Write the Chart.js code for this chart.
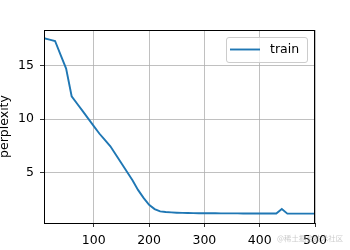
<!DOCTYPE html>
<html>
<head>
<title>Perplexity</title>
<script src="https://cdn.jsdelivr.net/npm/chart.js"></script>
<style>
  body { margin: 0; background: #fff; }
  canvas { display: block; }
</style>
</head>
<body>
<canvas id="chart" width="350" height="250"></canvas>

<script>
// epochs and training perplexity
const epochs = [10, 20, 30, 40, 50, 60, 70, 80, 90, 100,
  110, 120, 130, 140, 150, 160, 170, 180, 190, 200,
  210, 220, 230, 240, 250, 260, 270, 280, 290, 300,
  310, 320, 330, 340, 350, 360, 370, 380, 390, 400,
  410, 420, 430, 440, 450, 460, 470, 480, 490, 500];
const trainPerplexity = [17.6, 17.48, 17.35, 16.05, 14.75, 12.15, 11.45, 10.75, 10.05, 9.35,
  8.65, 8.05, 7.45, 6.65, 5.85, 5.05, 4.25, 3.35, 2.6, 1.95,
  1.55, 1.33, 1.27, 1.24, 1.21, 1.19, 1.18, 1.17, 1.16, 1.15,
  1.15, 1.15, 1.14, 1.14, 1.14, 1.14, 1.13, 1.13, 1.13, 1.13,
  1.13, 1.13, 1.13, 1.55, 1.12, 1.12, 1.12, 1.12, 1.12, 1.12];
const xTicks = [100, 200, 300, 400, 500];
const yTicks = [5, 10, 15];

const FONT = 'DejaVu Sans';
const tickFont = { family: FONT, size: 12.5 };

// matplotlib-ish frame, legend and the site watermark
const decorations = {
  id: 'decorations',
  afterDraw(chart) {
    const ctx = chart.ctx;
    const a = chart.chartArea;
    ctx.save();
    ctx.strokeStyle = '#000';
    ctx.lineWidth = 1;
    ctx.strokeRect(Math.round(a.left) + 0.5, Math.round(a.top) + 0.5,
      Math.round(a.right - a.left) - 1, Math.round(a.bottom - a.top));

    // legend box
    const ds = chart.data.datasets[0];
    ctx.globalAlpha = 0.8;
    ctx.fillStyle = '#fff';
    ctx.strokeStyle = '#cccccc';
    ctx.beginPath();
    ctx.roundRect(226.5, 37.5, 81, 25, 2.5);
    ctx.fill();
    ctx.globalAlpha = 1;
    ctx.stroke();
    ctx.strokeStyle = ds.borderColor;
    ctx.lineWidth = ds.borderWidth;
    ctx.beginPath();
    ctx.moveTo(230, 49.5);
    ctx.lineTo(260, 49.5);
    ctx.stroke();
    ctx.fillStyle = '#000';
    ctx.font = '12.5px "' + FONT + '"';
    ctx.textBaseline = 'middle';
    ctx.textAlign = 'left';
    ctx.fillText(ds.label, 270, 50);

    // watermark
    ctx.fillStyle = 'rgba(160,160,160,0.55)';
    ctx.font = '7.4px "Noto Sans CJK SC"';
    ctx.fillText('@稀土掘金技术社区', 277, 238.5);
    ctx.restore();
  }
};

new Chart(document.getElementById('chart'), {
  type: 'line',
  data: {
    datasets: [{
      label: 'train',
      data: epochs.map((e, i) => ({ x: e, y: trainPerplexity[i] })),
      borderColor: '#1f77b4',
      borderWidth: 1.9,
      pointRadius: 0,
      tension: 0,
      fill: false
    }]
  },
  options: {
    responsive: false,
    animation: false,
    layout: { padding: { left: 0, top: 30, right: 35, bottom: 0 } },
    plugins: { legend: { display: false }, tooltip: { enabled: false } },
    scales: {
      x: {
        type: 'linear',
        min: 10,
        max: 500,
        afterBuildTicks: s => { s.ticks = xTicks.map(v => ({ value: v })); },
        afterFit: s => { s.height = 27; },
        grid: { color: '#b0b0b0', lineWidth: 0.8, tickColor: '#000', tickLength: 4, drawTicks: true },
        border: { display: true, color: '#000', width: 1 },
        ticks: { color: '#000', font: tickFont, padding: 6, maxRotation: 0, autoSkip: false }
      },
      y: {
        type: 'linear',
        min: 0.24,
        max: 18.38,
        afterBuildTicks: s => { s.ticks = yTicks.map(v => ({ value: v })); },
        afterFit: s => { s.width = 44; },
        grid: { color: '#b0b0b0', lineWidth: 0.8, tickColor: '#000', tickLength: 4, drawTicks: true },
        border: { display: true, color: '#000', width: 1 },
        ticks: { color: '#000', font: tickFont, padding: 6, autoSkip: false },
        title: { display: true, text: 'perplexity', color: '#000', font: tickFont, padding: { top: -3, bottom: 0 } }
      }
    }
  },
  plugins: [decorations]
});
</script>
</body>
</html>
